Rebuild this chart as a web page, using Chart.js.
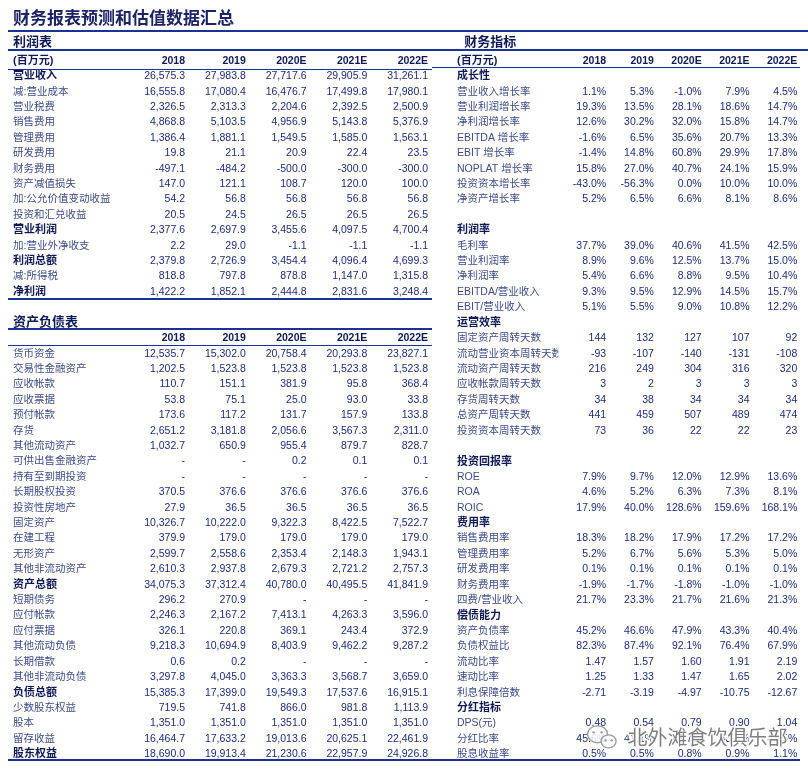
<!DOCTYPE html>
<html lang="zh-CN">
<head>
<meta charset="utf-8">
<title>财务报表预测和估值数据汇总</title>
<script src="https://cdn.jsdelivr.net/npm/chart.js@4/dist/chart.umd.min.js"></script>
<style>
  html, body { margin: 0; background: #fff; }
  #page { position: relative; width: 808px; height: 774px; overflow: hidden; }
  .panel { position: absolute; top: 0; height: 774px; }
  #leftPanel { left: 0; width: 432px; }
  #rightPanel { left: 432px; width: 376px; }
</style>
</head>
<body>
<div id="page">
  <div class="panel" id="leftPanel"><canvas id="leftChart"></canvas></div>
  <div class="panel" id="rightPanel"><canvas id="rightChart"></canvas></div>
</div>
<script>
// Column headers
const years = ['2018', '2019', '2020E', '2021E', '2022E']

// 利润表 (百万元)
const incomeLabels = ['营业收入', '减:营业成本', '营业税费', '销售费用', '管理费用', '研发费用', '财务费用', '资产减值损失',
  '加:公允价值变动收益', '投资和汇兑收益', '营业利润', '加:营业外净收支', '利润总额', '减:所得税', '净利润']
const incomeBold = ['营业收入', '营业利润', '利润总额', '净利润']
const incomeValues = [
  [26575.3, 27983.8, 27717.6, 29905.9, 31261.1],
  [16555.8, 17080.4, 16476.7, 17499.8, 17980.1],
  [2326.5, 2313.3, 2204.6, 2392.5, 2500.9],
  [4868.8, 5103.5, 4956.9, 5143.8, 5376.9],
  [1386.4, 1881.1, 1549.5, 1585.0, 1563.1],
  [19.8, 21.1, 20.9, 22.4, 23.5],
  [-497.1, -484.2, -500.0, -300.0, -300.0],
  [147.0, 121.1, 108.7, 120.0, 100.0],
  [54.2, 56.8, 56.8, 56.8, 56.8],
  [20.5, 24.5, 26.5, 26.5, 26.5],
  [2377.6, 2697.9, 3455.6, 4097.5, 4700.4],
  [2.2, 29.0, -1.1, -1.1, -1.1],
  [2379.8, 2726.9, 3454.4, 4096.4, 4699.3],
  [818.8, 797.8, 878.8, 1147.0, 1315.8],
  [1422.2, 1852.1, 2444.8, 2831.6, 3248.4]
]

// 资产负债表 (null = '-')
const balanceLabels = ['货币资金', '交易性金融资产', '应收帐款', '应收票据', '预付帐款', '存货', '其他流动资产', '可供出售金融资产',
  '持有至到期投资', '长期股权投资', '投资性房地产', '固定资产', '在建工程', '无形资产', '其他非流动资产', '资产总额',
  '短期债务', '应付帐款', '应付票据', '其他流动负债', '长期借款', '其他非流动负债', '负债总额', '少数股东权益', '股本',
  '留存收益', '股东权益']
const balanceBold = ['资产总额', '负债总额', '股东权益']
const balanceValues = [
  [12535.7, 15302.0, 20758.4, 20293.8, 23827.1],
  [1202.5, 1523.8, 1523.8, 1523.8, 1523.8],
  [110.7, 151.1, 381.9, 95.8, 368.4],
  [53.8, 75.1, 25.0, 93.0, 33.8],
  [173.6, 117.2, 131.7, 157.9, 133.8],
  [2651.2, 3181.8, 2056.6, 3567.3, 2311.0],
  [1032.7, 650.9, 955.4, 879.7, 828.7],
  [null, null, 0.2, 0.1, 0.1],
  [null, null, null, null, null],
  [370.5, 376.6, 376.6, 376.6, 376.6],
  [27.9, 36.5, 36.5, 36.5, 36.5],
  [10326.7, 10222.0, 9322.3, 8422.5, 7522.7],
  [379.9, 179.0, 179.0, 179.0, 179.0],
  [2599.7, 2558.6, 2353.4, 2148.3, 1943.1],
  [2610.3, 2937.8, 2679.3, 2721.2, 2757.3],
  [34075.3, 37312.4, 40780.0, 40495.5, 41841.9],
  [296.2, 270.9, null, null, null],
  [2246.3, 2167.2, 7413.1, 4263.3, 3596.0],
  [326.1, 220.8, 369.1, 243.4, 372.9],
  [9218.3, 10694.9, 8403.9, 9462.2, 9287.2],
  [0.6, 0.2, null, null, null],
  [3297.8, 4045.0, 3363.3, 3568.7, 3659.0],
  [15385.3, 17399.0, 19549.3, 17537.6, 16915.1],
  [719.5, 741.8, 866.0, 981.8, 1113.9],
  [1351.0, 1351.0, 1351.0, 1351.0, 1351.0],
  [16464.7, 17633.2, 19013.6, 20625.1, 22461.9],
  [18690.0, 19913.4, 21230.6, 22957.9, 24926.8]
]

// 财务指标
const growthLabels = ['营业收入增长率', '营业利润增长率', '净利润增长率', 'EBITDA 增长率', 'EBIT 增长率', 'NOPLAT 增长率', '投资资本增长率', '净资产增长率']
const growthValues = [
  [1.1, 5.3, -1.0, 7.9, 4.5],
  [19.3, 13.5, 28.1, 18.6, 14.7],
  [12.6, 30.2, 32.0, 15.8, 14.7],
  [-1.6, 6.5, 35.6, 20.7, 13.3],
  [-1.4, 14.8, 60.8, 29.9, 17.8],
  [15.8, 27.0, 40.7, 24.1, 15.9],
  [-43.0, -56.3, 0.0, 10.0, 10.0],
  [5.2, 6.5, 6.6, 8.1, 8.6]
]
const marginLabels = ['毛利率', '营业利润率', '净利润率', 'EBITDA/营业收入', 'EBIT/营业收入']
const marginValues = [
  [37.7, 39.0, 40.6, 41.5, 42.5],
  [8.9, 9.6, 12.5, 13.7, 15.0],
  [5.4, 6.6, 8.8, 9.5, 10.4],
  [9.3, 9.5, 12.9, 14.5, 15.7],
  [5.1, 5.5, 9.0, 10.8, 12.2]
]
const efficiencyLabels = ['固定资产周转天数', '流动营业资本周转天数', '流动资产周转天数', '应收帐款周转天数', '存货周转天数', '总资产周转天数', '投资资本周转天数']
const efficiencyValues = [
  [144, 132, 127, 107, 92],
  [-93, -107, -140, -131, -108],
  [216, 249, 304, 316, 320],
  [3, 2, 3, 3, 3],
  [34, 38, 34, 34, 34],
  [441, 459, 507, 489, 474],
  [73, 36, 22, 22, 23]
]
const returnLabels = ['ROE', 'ROA', 'ROIC']
const returnValues = [
  [7.9, 9.7, 12.0, 12.9, 13.6],
  [4.6, 5.2, 6.3, 7.3, 8.1],
  [17.9, 40.0, 128.6, 159.6, 168.1]
]
const expenseLabels = ['销售费用率', '管理费用率', '研发费用率', '财务费用率', '四费/营业收入']
const expenseValues = [
  [18.3, 18.2, 17.9, 17.2, 17.2],
  [5.2, 6.7, 5.6, 5.3, 5.0],
  [0.1, 0.1, 0.1, 0.1, 0.1],
  [-1.9, -1.7, -1.8, -1.0, -1.0],
  [21.7, 23.3, 21.7, 21.6, 21.3]
]
const solvencyLabels = ['资产负债率', '负债权益比', '流动比率', '速动比率', '利息保障倍数']
const solvencyFormats = ['pct', 'pct', 'dec', 'dec', 'dec']
const solvencyValues = [
  [45.2, 46.6, 47.9, 43.3, 40.4],
  [82.3, 87.4, 92.1, 76.4, 67.9],
  [1.47, 1.57, 1.60, 1.91, 2.19],
  [1.25, 1.33, 1.47, 1.65, 2.02],
  [-2.71, -3.19, -4.97, -10.75, -12.67]
]
const dividendLabels = ['DPS(元)', '分红比率', '股息收益率']
const dividendFormats = ['dec', 'pct', 'pct']
const dividendValues = [
  [0.48, 0.54, 0.79, 0.90, 1.04],
  [45.6, 41.1, 43.7, 43.3, 43.5],
  [0.5, 0.5, 0.8, 0.9, 1.1]
]

// Styles
const latinCjk = '"Liberation Sans", Arial, "Noto Sans CJK SC", sans-serif'
const labelFont = {
  title: { family: latinCjk, size: 13, weight: 'bold' },
  bold: { family: latinCjk, size: 11, weight: 'bold' },
  normal: { family: latinCjk, size: 10.5, weight: 'normal' }
}
const labelColor = { title: '#0f1a55', bold: '#0f1a55', normal: '#3e4b86' }
const valueColor = '#1d2c78'
const headerColor = '#0f1a55'
const ruleColor = '#1a3296'

const format = {
  num: v => v.toLocaleString('en-US', { minimumFractionDigits: 1, maximumFractionDigits: 1 }),
  pct: v => v.toFixed(1) + '%',
  int: v => String(v),
  dec: v => v.toFixed(2)
}

// Row builders
function tableRows(labels, values, fmt, boldLabels = []) {
  return labels.map((label, i) => ({
    label,
    values: values[i],
    style: boldLabels.includes(label) ? 'bold' : 'normal',
    format: Array.isArray(fmt) ? fmt[i] : fmt
  }))
}
// lift: how far (in rows) a section title sits above its grid line
const titleRow = (label, lift = 0) => ({ label, style: 'title', lift })
const headerRow = label => ({ label, style: 'bold', header: true })
const sectionRow = label => ({ label, style: 'bold' })
const blankRow = () => ({ label: '', style: 'normal' })

const leftRows = [
  titleRow('利润表', 0.2), headerRow('(百万元)'),
  ...tableRows(incomeLabels, incomeValues, 'num', incomeBold),
  blankRow(),
  titleRow('资产负债表', 0.05), headerRow(''),
  ...tableRows(balanceLabels, balanceValues, 'num', balanceBold)
]

const rightRows = [
  titleRow('  财务指标', 0.2), headerRow('(百万元)'),
  sectionRow('成长性'), ...tableRows(growthLabels, growthValues, 'pct'),
  blankRow(),
  sectionRow('利润率'), ...tableRows(marginLabels, marginValues, 'pct'),
  sectionRow('运营效率'), ...tableRows(efficiencyLabels, efficiencyValues, 'int'),
  blankRow(),
  sectionRow('投资回报率'), ...tableRows(returnLabels, returnValues, 'pct'),
  sectionRow('费用率'), ...tableRows(expenseLabels, expenseValues, 'pct'),
  sectionRow('偿债能力'), ...tableRows(solvencyLabels, solvencyValues, solvencyFormats),
  sectionRow('分红指标'), ...tableRows(dividendLabels, dividendValues, dividendFormats)
]

// One scatter point per cell: x = column, y = row; its text is drawn by the plugin
function cellsFor(rows, c) {
  const cells = []
  rows.forEach((row, i) => {
    if (row.header) {
      cells.push({ x: c + 1, y: i, text: years[c], header: true })
    } else if (row.values) {
      const v = row.values[c]
      cells.push({ x: c + 1, y: i, text: v == null ? '-' : format[row.format](v) })
    }
  })
  return cells
}

// Draws cell texts, horizontal rules and the watermark
const tablePlugin = {
  id: 'table',
  afterDatasetsDraw(chart, args, opts) {
    const { ctx } = chart
    const yScale = chart.scales.y
    ctx.save()
    ctx.textAlign = 'right'
    ctx.textBaseline = 'middle'
    chart.data.datasets.forEach((ds, d) => {
      chart.getDatasetMeta(d).data.forEach((pt, i) => {
        const cell = ds.data[i]
        ctx.font = (cell.header ? 'bold ' : '') + '10.5px "Liberation Sans", Arial, sans-serif'
        ctx.fillStyle = cell.header ? headerColor : valueColor
        ctx.fillText(cell.text, pt.x, pt.y)
      })
    })

    ctx.fillStyle = ruleColor
    opts.rules.forEach(rule => {
      const y = yScale.getPixelForValue(rule.at)
      ctx.fillRect(rule.from, Math.round(y - rule.width / 2), (rule.to || chart.width) - rule.from, rule.width)
    })

    if (opts.watermark) {
      const x = chart.scales.x.getPixelForValue(1.45)
      const y = yScale.getPixelForValue(44.9)
      // wechat bubbles
      ctx.lineWidth = 1.3
      ctx.strokeStyle = '#9a9a9a'
      ctx.fillStyle = 'rgba(255,255,255,0.85)'
      ctx.beginPath()
      ctx.ellipse(x - 30, y - 3, 10, 8.5, 0, 0, Math.PI * 2)
      ctx.fill(); ctx.stroke()
      ctx.beginPath()
      ctx.ellipse(x - 19, y + 4, 7.5, 6.5, 0, 0, Math.PI * 2)
      ctx.fill(); ctx.stroke()
      ctx.fillStyle = '#9a9a9a'
      ;[[-34, -5], [-26, -5], [-22, 3], [-16, 3]].forEach(([dx, dy]) => {
        ctx.beginPath(); ctx.arc(x + dx, y + dy, 1.2, 0, Math.PI * 2); ctx.fill()
      })
      ctx.textAlign = 'left'
      ctx.font = '20px "Noto Sans CJK SC", sans-serif'
      ctx.lineWidth = 3
      ctx.strokeStyle = 'rgba(255,255,255,0.9)'
      ctx.strokeText('北外滩食饮俱乐部', x, y)
      ctx.fillStyle = 'rgba(105,105,105,0.85)'
      ctx.fillText('北外滩食饮俱乐部', x, y)
    }
    ctx.restore()
  }
}

function makeTable(canvasId, rows, layout) {
  const styleOf = c => (rows[c.index] ? rows[c.index].style : 'normal')
  return new Chart(document.getElementById(canvasId), {
    type: 'scatter',
    data: {
      datasets: years.map((year, c) => ({
        label: year,
        data: cellsFor(rows, c),
        pointRadius: 0,
        pointHoverRadius: 0
      }))
    },
    options: {
      responsive: true,
      maintainAspectRatio: false,
      animation: false,
      events: [],
      layout: { padding: layout.padding },
      plugins: {
        legend: { display: false },
        tooltip: { enabled: false },
        title: layout.title || { display: false },
        table: { rules: layout.rules, watermark: layout.watermark }
      },
      scales: {
        x: { type: 'linear', min: 0, max: years.length, display: false },
        y: {
          type: 'linear',
          reverse: true,
          min: 0,
          max: rows.length - 1,
          grid: { display: false },
          border: { display: false },
          afterBuildTicks: scale => { scale.ticks = rows.map((r, i) => ({ value: i - (r.lift || 0) })) },
          afterFit: scale => { scale.width = layout.labelWidth },
          ticks: {
            autoSkip: false,
            padding: 0,
            crossAlign: 'far',
            callback: (value, index) => rows[index].label,
            font: c => labelFont[styleOf(c)],
            color: c => labelColor[styleOf(c)]
          }
        }
      }
    },
    plugins: [tablePlugin]
  })
}

makeTable('leftChart', leftRows, {
  padding: { left: 13, right: 4, top: 0, bottom: 19.7 },
  labelWidth: 111.25,
  title: {
    display: true,
    text: '财务报表预测和估值数据汇总',
    align: 'start',
    color: '#1c2466',
    font: { family: '"Noto Sans CJK SC", sans-serif', size: 17, weight: 'bold' },
    padding: { top: 7, bottom: 18 }
  },
  rules: [
    { at: -0.92, width: 2, from: 8 },
    { at: 0.29, width: 2, from: 8 },
    { at: 1.55, width: 1, from: 8 },
    { at: 16.45, width: 2, from: 8 },
    { at: 18.42, width: 2, from: 8 },
    { at: 19.5, width: 1, from: 8 },
    { at: 46.4, width: 2, from: 8 }
  ]
})

makeTable('rightChart', rightRows, {
  padding: { left: 25, right: 10.7, top: 45.4, bottom: 19.7 },
  labelWidth: 101.25,
  watermark: true,
  rules: [
    { at: -0.92, width: 2, from: 0 },
    { at: 0.29, width: 2, from: 0 },
    { at: 1.42, width: 1, from: 0, to: 368 },
    { at: 46.4, width: 2, from: 0, to: 368 }
  ]
})
</script>
</body>
</html>
